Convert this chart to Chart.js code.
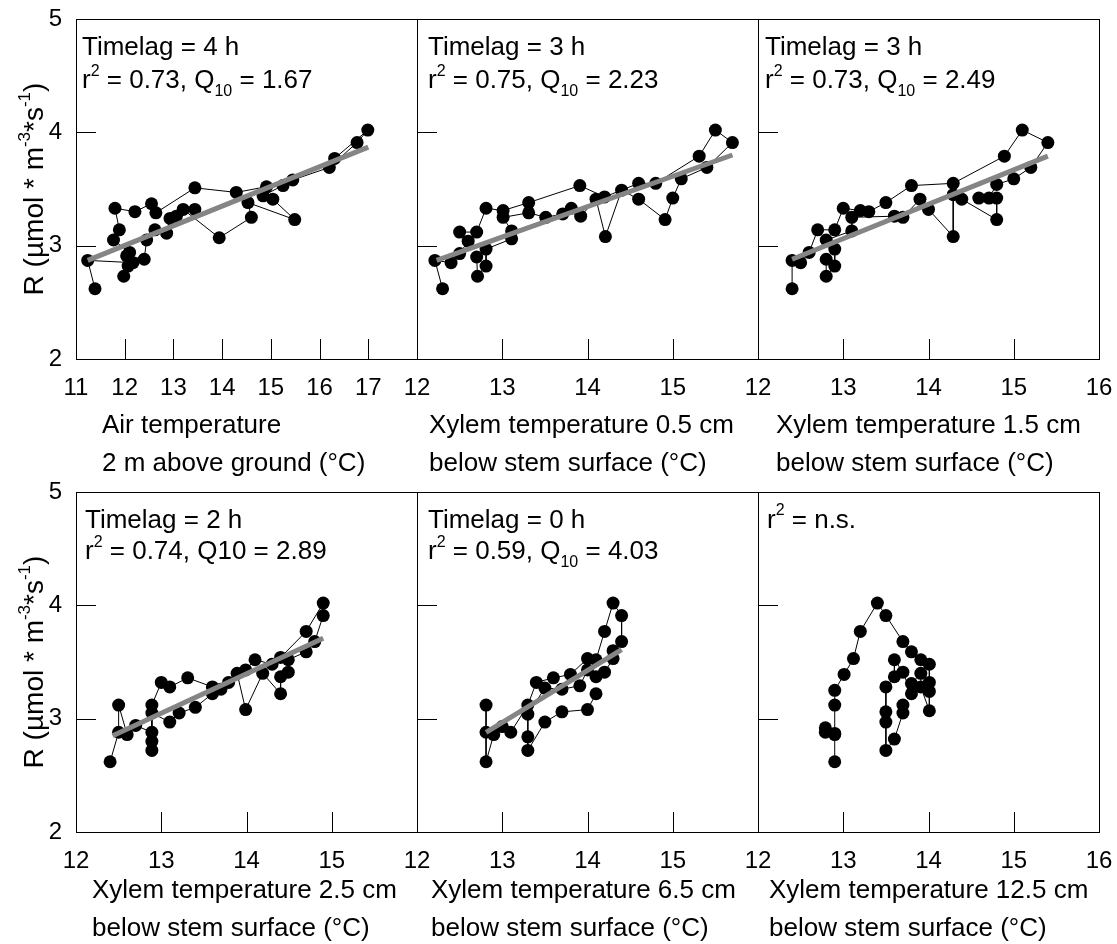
<!DOCTYPE html>
<html>
<head>
<meta charset="utf-8">
<script src="https://cdn.jsdelivr.net/npm/chart.js@4.4.1/dist/chart.umd.min.js"></script>
<style>
  html, body { margin: 0; padding: 0; background: #fff; }
  #wrap { position: relative; width: 1117px; height: 944px; overflow: hidden; }
  #wrap canvas { position: absolute; }
</style>
</head>
<body>
<div id="wrap"></div>
<script>
// respiration R (µmol m-3 s-1) vs. temperature, points in time order

// air temperature, 2 m above ground
const airT = [11.39, 11.24, 12.17, 11.98, 12.07, 12.10, 11.77, 11.89, 11.80, 12.21, 12.55, 12.64, 13.44, 14.29, 14.91, 15.25, 15.45, 16.20, 16.77, 16.99, 16.31, 14.84, 15.04, 15.49, 14.53, 14.60, 13.94, 13.20, 13.44, 13.06, 12.93, 12.86, 12.62, 12.45, 12.40, 12.04];
const airR = [2.62, 2.87, 2.85, 2.73, 2.82, 2.94, 3.05, 3.14, 3.33, 3.30, 3.37, 3.29, 3.51, 3.47, 3.52, 3.53, 3.58, 3.69, 3.91, 4.02, 3.77, 3.44, 3.41, 3.23, 3.38, 3.25, 3.07, 3.32, 3.32, 3.26, 3.24, 3.11, 3.14, 3.05, 2.88, 2.91];
const airFitT = [11.24, 17.0];
const airFitR = [2.87, 3.87];

// xylem 0.5 cm
const x05T = [12.30, 12.21, 12.40, 12.50, 12.60, 12.50, 12.70, 12.81, 13.01, 13.31, 13.91, 14.20, 14.60, 14.80, 15.31, 15.50, 15.70, 15.40, 15.10, 15.00, 14.91, 14.60, 14.40, 14.21, 14.10, 13.92, 13.81, 13.71, 13.51, 13.31, 13.01, 13.11, 13.11, 12.81, 12.81, 12.71, 12.70];
const x05R = [2.62, 2.87, 2.85, 2.93, 3.04, 3.12, 3.12, 3.33, 3.31, 3.38, 3.53, 3.43, 3.55, 3.55, 3.79, 4.02, 3.91, 3.69, 3.59, 3.42, 3.23, 3.41, 3.49, 3.08, 3.41, 3.26, 3.33, 3.28, 3.25, 3.29, 3.25, 3.13, 3.06, 2.97, 2.82, 2.73, 2.90];
const x05FitT = [12.23, 15.70];
const x05FitR = [2.87, 3.80];

// xylem 1.5 cm
const x15T = [12.40, 12.40, 12.50, 12.60, 12.70, 12.90, 13.00, 13.20, 13.30, 13.50, 13.80, 14.29, 14.89, 15.10, 15.40, 15.20, 15.00, 14.80, 14.71, 14.59, 14.80, 14.80, 14.39, 14.29, 14.29, 14.00, 13.90, 13.70, 13.60, 13.10, 13.10, 12.80, 12.90, 12.90, 12.80, 12.80];
const x15R = [2.62, 2.87, 2.85, 2.94, 3.14, 3.14, 3.33, 3.31, 3.30, 3.38, 3.53, 3.55, 3.79, 4.02, 3.91, 3.69, 3.59, 3.54, 3.42, 3.42, 3.42, 3.23, 3.41, 3.45, 3.08, 3.32, 3.41, 3.25, 3.26, 3.25, 3.13, 3.05, 2.97, 2.82, 2.73, 2.88];
const x15FitT = [12.40, 15.40];
const x15FitR = [2.88, 3.79];

// xylem 2.5 cm
const x25T = [12.40, 12.50, 12.50, 12.60, 12.70, 12.89, 12.89, 13.00, 13.10, 13.31, 13.60, 13.79, 13.99, 14.10, 14.30, 14.40, 14.70, 14.90, 14.90, 14.80, 14.70, 14.49, 14.49, 14.40, 14.40, 14.19, 13.99, 13.89, 13.70, 13.60, 13.40, 13.21, 13.10, 12.89, 12.89, 12.89];
const x25R = [2.62, 2.88, 3.12, 2.86, 2.94, 2.88, 3.12, 3.32, 3.28, 3.36, 3.28, 3.32, 3.43, 3.52, 3.48, 3.54, 3.77, 4.02, 3.91, 3.68, 3.59, 3.52, 3.41, 3.37, 3.22, 3.40, 3.08, 3.40, 3.26, 3.22, 3.10, 3.05, 2.97, 3.05, 2.80, 2.72];
const x25FitT = [12.43, 14.90];
const x25FitR = [2.85, 3.71];

// xylem 6.5 cm
const x65T = [12.81, 12.81, 12.81, 12.90, 13.00, 13.10, 13.30, 13.40, 13.60, 13.80, 14.00, 14.10, 14.20, 14.30, 14.40, 14.40, 14.30, 14.30, 14.20, 14.10, 14.00, 13.91, 13.70, 13.50, 13.30, 13.30, 13.30, 13.50, 13.70, 14.00, 14.10];
const x65R = [3.12, 2.88, 2.62, 2.86, 2.93, 2.88, 3.12, 3.32, 3.36, 3.39, 3.53, 3.52, 3.77, 4.02, 3.91, 3.68, 3.60, 3.53, 3.41, 3.37, 3.43, 3.29, 3.26, 3.27, 3.04, 2.84, 2.72, 2.97, 3.06, 3.08, 3.22];
const x65FitT = [12.81, 14.40];
const x65FitR = [2.88, 3.61];

// xylem 12.5 cm (no significant fit)
const x125T = [12.90, 12.90, 12.79, 12.79, 12.90, 12.90, 12.90, 13.01, 13.12, 13.20, 13.40, 13.50, 13.70, 13.80, 13.91, 14.01, 14.01, 14.01, 14.01, 13.91, 13.91, 13.80, 13.80, 13.70, 13.60, 13.60, 13.50, 13.50, 13.50, 13.50, 13.60, 13.70, 13.70];
const x125R = [2.62, 2.86, 2.88, 2.92, 2.87, 3.12, 3.25, 3.39, 3.53, 3.77, 4.02, 3.91, 3.68, 3.59, 3.52, 3.48, 3.32, 3.24, 3.07, 3.28, 3.40, 3.31, 3.22, 3.41, 3.52, 3.37, 3.28, 3.06, 2.97, 2.72, 2.82, 3.05, 3.12];

const yTicks = [2, 3, 4, 5];

// text: '^' = superscript, '_' = subscript
const notes = [
  [['Timelag = 4 h'], ['r', '^2', ' = 0.73, Q', '_10', ' = 1.67']],
  [['Timelag = 3 h'], ['r', '^2', ' = 0.75, Q', '_10', ' = 2.23']],
  [['Timelag = 3 h'], ['r', '^2', ' = 0.73, Q', '_10', ' = 2.49']],
  [['Timelag = 2 h'], ['r', '^2', ' = 0.74, Q10 = 2.89']],
  [['Timelag = 0 h'], ['r', '^2', ' = 0.59, Q', '_10', ' = 4.03']],
  [['r', '^2', ' = n.s.']]
];
const xTitles = [
  ['Air temperature', '2 m above ground (°C)'],
  ['Xylem temperature 0.5 cm', 'below stem surface (°C)'],
  ['Xylem temperature 1.5 cm', 'below stem surface (°C)'],
  ['Xylem temperature 2.5 cm', 'below stem surface (°C)'],
  ['Xylem temperature 6.5 cm', 'below stem surface (°C)'],
  ['Xylem temperature 12.5 cm', 'below stem surface (°C)']
];
const yTitle = ['R (µmol * m', '^-3', '*s', '^-1', ')'];

const FAM = '"Liberation Sans", Arial, Helvetica, sans-serif';
const COLS = [76, 417, 758];
const PW = 341;
const ROWS = [
  { top: 19, bottom: 359, extra: 125, t1: 74, noteY: [36, 69] },
  { top: 492, bottom: 832, extra: 112, t1: 66, noteY: [35.5, 67] }
];

const panels = [
  { T: airT, R: airR, fT: airFitT, fR: airFitR, min: 11, max: 18, titleDx: 26, noteDx: 6 },
  { T: x05T, R: x05R, fT: x05FitT, fR: x05FitR, min: 12, max: 16, titleDx: 12, noteDx: 11 },
  { T: x15T, R: x15R, fT: x15FitT, fR: x15FitR, min: 12, max: 16, titleDx: 18, noteDx: 7 },
  { T: x25T, R: x25R, fT: x25FitT, fR: x25FitR, min: 12, max: 16, titleDx: 16, noteDx: 9 },
  { T: x65T, R: x65R, fT: x65FitT, fR: x65FitR, min: 12, max: 16, titleDx: 14, noteDx: 11 },
  { T: x125T, R: x125R, fT: null, fR: null, min: 12, max: 16, titleDx: 11, noteDx: 9 }
];

function font(px) { return px + 'px ' + FAM; }

// draws a list of text pieces with sub/superscripts, returns width
function drawRich(ctx, x, y, parts, size, measureOnly) {
  let cx = x;
  for (const p of parts) {
    let txt = p, fs = size, dy = 0;
    if (p[0] === '^') { txt = p.slice(1); fs = Math.round(size * 0.6); dy = -size * 0.48; }
    else if (p[0] === '_') { txt = p.slice(1); fs = Math.round(size * 0.6); dy = size * 0.3; }
    ctx.font = font(fs);
    if (!measureOnly) ctx.fillText(txt, cx, y + dy);
    cx += ctx.measureText(txt).width;
  }
  return cx - x;
}

const framePlugin = {
  id: 'frame',
  afterDraw(chart, args, opts) {
    const { ctx, chartArea: a } = chart;
    const xs = chart.scales.x, ys = chart.scales.y;
    ctx.save();
    ctx.strokeStyle = '#000';
    ctx.lineWidth = 1;
    ctx.strokeRect(a.left + 0.5, a.top + 0.5, a.right - a.left, a.bottom - a.top);
    // inward tick marks
    ctx.beginPath();
    for (let v = xs.min + 1; v < xs.max; v++) {
      const px = Math.round(xs.getPixelForValue(v)) + 0.5;
      ctx.moveTo(px, a.bottom);
      ctx.lineTo(px, a.bottom - 20);
    }
    for (const v of yTicks) {
      if (v === ys.min || v === ys.max) continue;
      const py = Math.round(ys.getPixelForValue(v)) + 0.5;
      ctx.moveTo(a.left, py);
      ctx.lineTo(a.left + 20, py);
    }
    ctx.stroke();

    ctx.fillStyle = '#000';
    ctx.textBaseline = 'alphabetic';
    ctx.textAlign = 'left';
    // notes inside the panel
    opts.note.forEach((line, i) => {
      drawRich(ctx, a.left + opts.noteDx, a.top + opts.noteY[i], line, 26);
    });
    // x title, two lines
    ctx.font = font(26);
    opts.title.forEach((line, i) => {
      ctx.fillText(line, a.left + opts.titleDx, a.bottom + opts.t1 + i * 38);
    });
    // y title on the left column
    if (opts.yTitle) {
      const w = drawRich(ctx, 0, 0, yTitle, 28, true);
      ctx.translate(43, (a.top + a.bottom) / 2);
      ctx.rotate(-Math.PI / 2);
      drawRich(ctx, -w / 2, 0, yTitle, 28);
    }
    ctx.restore();
  }
};

const wrap = document.getElementById('wrap');

panels.forEach((p, i) => {
  const col = i % 3, row = ROWS[Math.floor(i / 3)];
  const ph = row.bottom - row.top;
  const cv = document.createElement('canvas');
  const W = 76 + PW + 19, H = 19 + ph + row.extra;
  cv.width = W; cv.height = H;
  cv.style.left = (COLS[col] - 76) + 'px';
  cv.style.top = (row.top - 19) + 'px';
  wrap.appendChild(cv);

  const datasets = [];
  if (p.fT) {
    datasets.push({
      data: p.fT.map((t, k) => ({ x: t, y: p.fR[k] })),
      showLine: true, borderColor: '#858585', borderWidth: 5,
      pointRadius: 0, fill: false
    });
  }
  datasets.push({
    data: p.T.map((t, k) => ({ x: t, y: p.R[k] })),
    showLine: true, borderColor: '#000', borderWidth: 1,
    pointRadius: 6.5, pointBackgroundColor: '#000', pointBorderWidth: 0,
    fill: false
  });

  const hideLast = col !== 2;
  new Chart(cv, {
    type: 'scatter',
    data: { datasets },
    options: {
      responsive: false,
      animation: false,
      events: [],
      layout: { padding: { top: 19, right: 19, left: 0, bottom: 0 } },
      scales: {
        x: {
          type: 'linear', min: p.min, max: p.max,
          grid: { display: false, drawTicks: false },
          border: { display: false },
          ticks: {
            stepSize: 1, autoSkip: false, maxRotation: 0, padding: 15,
            color: '#000', font: { family: FAM, size: 24 },
            callback: v => (hideLast && v === p.max) ? '' : String(v)
          },
          afterFit(s) { s.height = row.extra; s.paddingLeft = 0; s.paddingRight = 0; }
        },
        y: {
          type: 'linear', min: 2, max: 5,
          grid: { display: false, drawTicks: false },
          border: { display: false },
          ticks: {
            display: col === 0, stepSize: 1, padding: 14,
            color: '#000', font: { family: FAM, size: 24 }
          },
          afterFit(s) { s.width = 76; s.paddingTop = 0; s.paddingBottom = 0; }
        }
      },
      plugins: {
        legend: { display: false },
        tooltip: { enabled: false },
        frame: {
          note: notes[i], noteDx: p.noteDx, noteY: row.noteY,
          title: xTitles[i], titleDx: p.titleDx, t1: row.t1,
          yTitle: col === 0
        }
      }
    },
    plugins: [framePlugin]
  });
});
</script>
</body>
</html>
